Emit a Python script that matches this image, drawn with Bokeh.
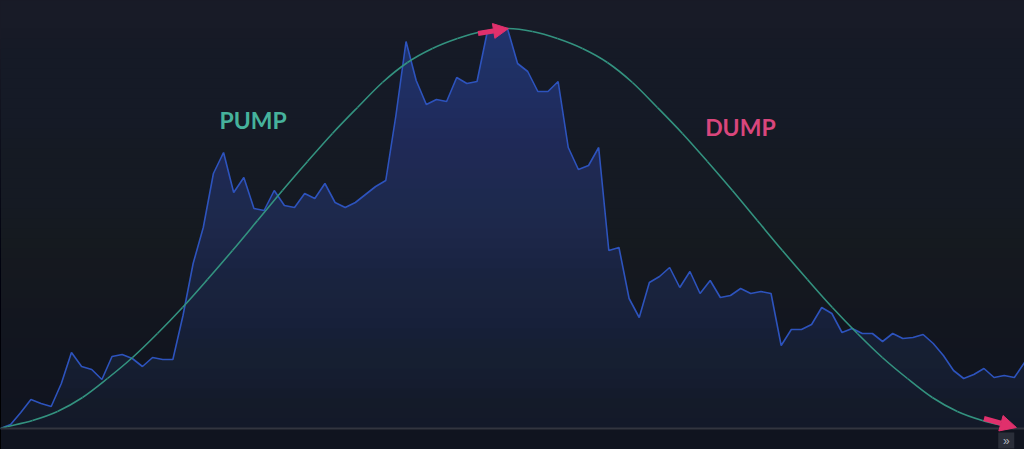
import numpy as np
from bokeh.plotting import figure
from bokeh.models import Range1d, Arrow, NormalHead, Span, GlobalInlineStyleSheet
from bokeh.core.properties import value
from bokeh.embed import file_html
from bokeh.resources import INLINE

# ---- data ----
bar_index = list(range(102))
price = [0, 4, 16, 29, 25, 22, 45, 76, 62, 59,
         49, 72, 74, 70, 62, 71, 69, 69, 113, 165,
         201, 255, 276, 236, 251, 220, 218, 238, 223, 221,
         235, 230, 245, 226, 221, 226, 234, 242, 248, 313,
         387, 348, 324, 329, 327, 351, 345, 347, 396, 398,
         400, 365, 357, 337, 337, 347, 281, 259, 263, 281,
         178, 181, 130, 111, 146, 152, 161, 141, 157, 135,
         148, 131, 133, 140, 135, 137, 135, 83, 99, 99,
         104, 121, 115, 96, 100, 95, 95, 87, 95, 90,
         91, 94, 85, 73, 58, 50, 54, 60, 51, 53,
         51, 66]

curve_x = [0, 0.69, 3.16, 5.62, 8.09, 10.55, 13.02, 15.48, 17.95, 20.41,
           22.88, 25.35, 27.81, 30.28, 32.74, 35.21, 37.67, 40.14, 42.6, 45.07,
           47.53, 50.0,
           52.47, 54.93, 57.4, 59.86, 62.33, 64.79, 67.26, 69.72, 72.19, 74.65,
           77.12, 79.59, 82.05, 84.52, 86.98, 89.45, 91.91, 94.38, 96.84, 99.31,
           100.0]
curve_v = [0, 2, 8, 17, 31, 50, 71, 95, 121, 149,
           178, 208, 238, 267, 295, 321, 346, 366, 380, 390,
           397, 400,
           397, 390, 380, 366, 346, 321, 295, 267, 238, 208,
           178, 149, 121, 95, 71, 50, 31, 17, 8, 2,
           0]

labels = ["PUMP", "DUMP"]
label_x = [21.6, 69.5]
label_v = [309, 302]

# ---- style ----
BG = "#181b27"
TOP = (34, 51, 110)
LINE = "#2d53bd"
TEAL = "#33927f"
PINK = "#e0306c"
PUMP_C = "#46b29c"
DUMP_C = "#d9467c"

p = figure(width=1024, height=449, x_range=Range1d(0, 101), y_range=Range1d(-21, 428),
           output_backend="svg", toolbar_location=None, min_border=0,
           x_axis_location=None, y_axis_location=None,
           background_fill_color=BG, border_fill_color=BG, outline_line_color=None)
p.grid.visible = False
p.stylesheets = [GlobalInlineStyleSheet(css="html, body {margin:0; padding:0; background:#181b27; overflow:hidden;}")]

# area fill (top colour), then fade toward bottom with background-coloured overlays
p.varea(x=bar_index, y1=0, y2=price, fill_color="#%02x%02x%02x" % TOP, fill_alpha=1.0)

top_v = max(price)
N = 40
levels = np.linspace(top_v / N, top_v, N)
mids = levels - top_v / N / 2
target = 0.83 * (1 - mids / top_v)
T = 1 - target
alphas = []
for m in range(N):
    nxt = T[m + 1] if m + 1 < N else 1.0
    alphas.append(float(1 - T[m] / nxt))
p.quad(left=0, right=101, bottom=-21, top=list(levels), fill_color=BG,
       fill_alpha=alphas, line_color=None)

p.line(bar_index, price, line_color=LINE, line_width=1.6)

p.add_layout(Span(location=0, dimension="width", line_color="#32353f", line_width=2))

# bell curve drawn smoothly through the read points (Catmull-Rom -> cubic Bezier)
cx = np.array(curve_x, dtype=float)
cv = np.array(curve_v, dtype=float)
px_ = np.concatenate([[cx[0]], cx, [cx[-1]]])
pv_ = np.concatenate([[cv[0]], cv, [cv[-1]]])
n = len(cx)
x0 = px_[1:n]; y0 = pv_[1:n]
x1 = px_[2:n + 1]; y1 = pv_[2:n + 1]
cx0 = x0 + (px_[2:n + 1] - px_[0:n - 1]) / 6
cy0 = y0 + (pv_[2:n + 1] - pv_[0:n - 1]) / 6
cx1 = x1 - (px_[3:n + 2] - px_[1:n]) / 6
cy1 = y1 - (pv_[3:n + 2] - pv_[1:n]) / 6
p.bezier(x0=x0, y0=y0, x1=x1, y1=y1, cx0=cx0, cy0=cy0, cx1=cx1, cy1=cy1,
         line_color=TEAL, line_width=1.6)

# arrows
k = int(np.argmax(curve_v))
tip_x, tip_v = curve_x[k] + 0.1, curve_v[k]
p.add_layout(Arrow(x_start=tip_x - 3.0, y_start=tip_v - 5, x_end=tip_x, y_end=tip_v,
                   line_color=PINK, line_width=5,
                   end=NormalHead(size=15, fill_color=PINK, line_color=PINK)))
ex, ev = curve_x[-1] + 0.2, curve_v[-1] + 1
p.add_layout(Arrow(x_start=ex - 3.2, y_start=ev + 9, x_end=ex, y_end=ev,
                   line_color=PINK, line_width=5,
                   end=NormalHead(size=16, fill_color=PINK, line_color=PINK)))

p.text(x=label_x, y=label_v, text=labels, text_color=[PUMP_C, DUMP_C],
       text_font=value("Lato"), text_font_style="bold", text_font_size="23px",
       text_align="left", text_baseline="middle")

# small scroll button
p.scatter(x=[99.2], y=[-12], marker="square", size=16, fill_color="#2a2e39", line_color=None)
p.text(x=[99.2], y=[-12], text=["»"], text_color="#b2b5be", text_font_size="12px",
       text_align="center", text_baseline="middle")

open("out.html", "w").write(file_html(p, INLINE))
